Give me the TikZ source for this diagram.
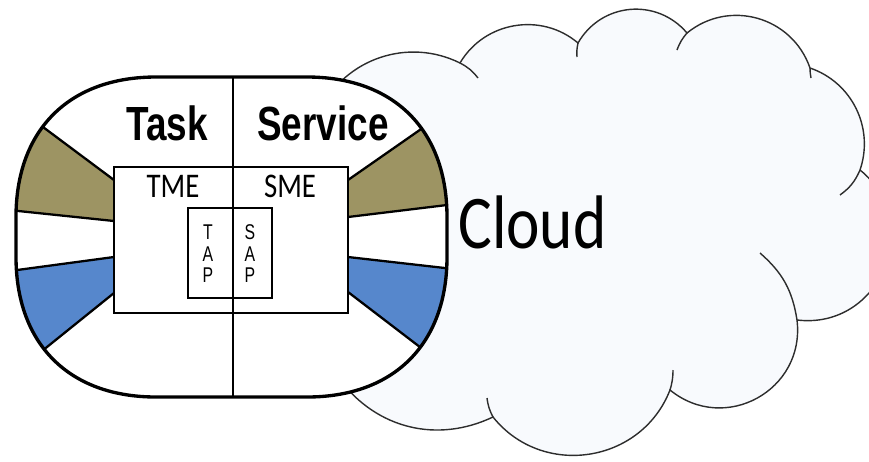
\documentclass[tikz,border=0pt]{standalone}
\usepackage{fontspec}
\usepackage{graphicx}
\usepackage{tikz}
\usetikzlibrary{positioning}
\newfontfamily\calib{Carlito}
\newfontfamily\arialf{Liberation Sans}
\definecolor{bandgold}{RGB}{157,148,99}
\definecolor{bandblue}{RGB}{86,135,204}
\definecolor{cloudfill}{RGB}{248,250,253}
\definecolor{cloudline}{RGB}{45,45,45}
\tikzset{
    holder/.style={draw=black, line width=1.9pt},
    box/.style={draw=black, line width=1.6pt},
    band/.style={draw=black, line width=1.3pt, line join=round},
    puff/.style={draw=cloudline, line width=0.8pt},
    title/.style={inner sep=0pt, font=\arialf\bfseries\fontsize{21}{25}\selectfont},
    entity/.style={inner sep=0pt, font=\calib\fontsize{16.4}{20}\selectfont},
    point/.style={inner sep=0pt, font=\arialf\fontsize{9}{9}\selectfont},
}
\newcommand{\holderpath}{(156,77) -- (307,77) .. controls (394,77) and (447,130) .. (447,217) -- (447,257) .. controls (447,344) and (394,397) .. (307,397) -- (156,397) .. controls (69,397) and (16,344) .. (16,257) -- (16,217) .. controls (16,130) and (69,77) .. (156,77) -- cycle}

\begin{document}
\begin{tikzpicture}[x=0.02cm, y=-0.02cm]
 \clip (0,0) rectangle (869,461);
 % the cloud behind the device
 \path[puff, fill=cloudfill] (320,110) to[bend left=45] (460,63)
   to[bend left=50, looseness=1.03] (578,43)
   to[bend left=55, looseness=1.09] (687,33)
   to[bend left=55, looseness=1.09] (810,68)
   to[bend left=45] (860,170)
   to[bend left=74, looseness=1.32] (797,320)
   to[bend left=68, looseness=1.25] (670,390)
   to[bend left=60, looseness=1.13] (493,417)
   to[bend left=39] (340,380) -- (300,300) -- cycle;
 \draw[puff] (460,63) to[bend left=12] (478,78);
 \draw[puff] (577,57) to[bend left=8] (578,43);
 \draw[puff] (677,50) to[bend left=10] (687,33);
 \draw[puff] (811,78) to[bend left=5] (810,68);
 \draw[puff] (860,170) to[bend left=15] (840,195);
 \draw[puff] (760,253) to[bend left=20] (797,320);
 \draw[puff] (673,370) to[bend left=8] (670,390);
 \draw[puff] (493,417) to[bend left=10] (487,398);
 \node[anchor=base west, inner sep=0pt, font=\calib\fontsize{36}{40}\selectfont] (cloudlbl) at (458,248) {\scalebox{1}[1.2]{Cloud}};

 % the device with its bands
 \fill[white] \holderpath;
 \begin{scope}
  \clip \holderpath;
  \filldraw[band, fill=bandgold] (114,180) -- (-20,80) -- (-20,207) -- (114,221);
  \filldraw[band, fill=bandblue] (114,257) -- (-20,275) -- (-20,401) -- (114,293);
  \filldraw[band, fill=bandgold] (348,180) -- (480,88) -- (480,201) -- (348,217);
  \filldraw[band, fill=bandblue] (348,257) -- (480,272) -- (480,393) -- (348,292);
 \end{scope}
 \draw[holder] \holderpath;
 \draw[box] (114,167) rectangle (348,313);
 \draw[box] (188,208) rectangle (272,298);
 \draw[box] (233,77) -- (233,397);

 \node[title, anchor=base] (task) at (167,140) {\scalebox{1}[1.3]{Task}};
 \node[title, anchor=base] (service) at (323,140) {\scalebox{1}[1.3]{Service}};
 \node[entity, anchor=base] (tme) at (173,197) {\scalebox{1}[1.2]{TME}};
 \node[entity, anchor=base] (sme) at (290,197) {\scalebox{1}[1.2]{SME}};
 \node[point] (tap) at (208,257) {\scalebox{1}[1.35]{\begin{tabular}{@{}c@{}}T\\A\\P\end{tabular}}};
 \node[point] (sap) at (250,257) {\scalebox{1}[1.35]{\begin{tabular}{@{}c@{}}S\\A\\P\end{tabular}}};
\end{tikzpicture}
\end{document}
